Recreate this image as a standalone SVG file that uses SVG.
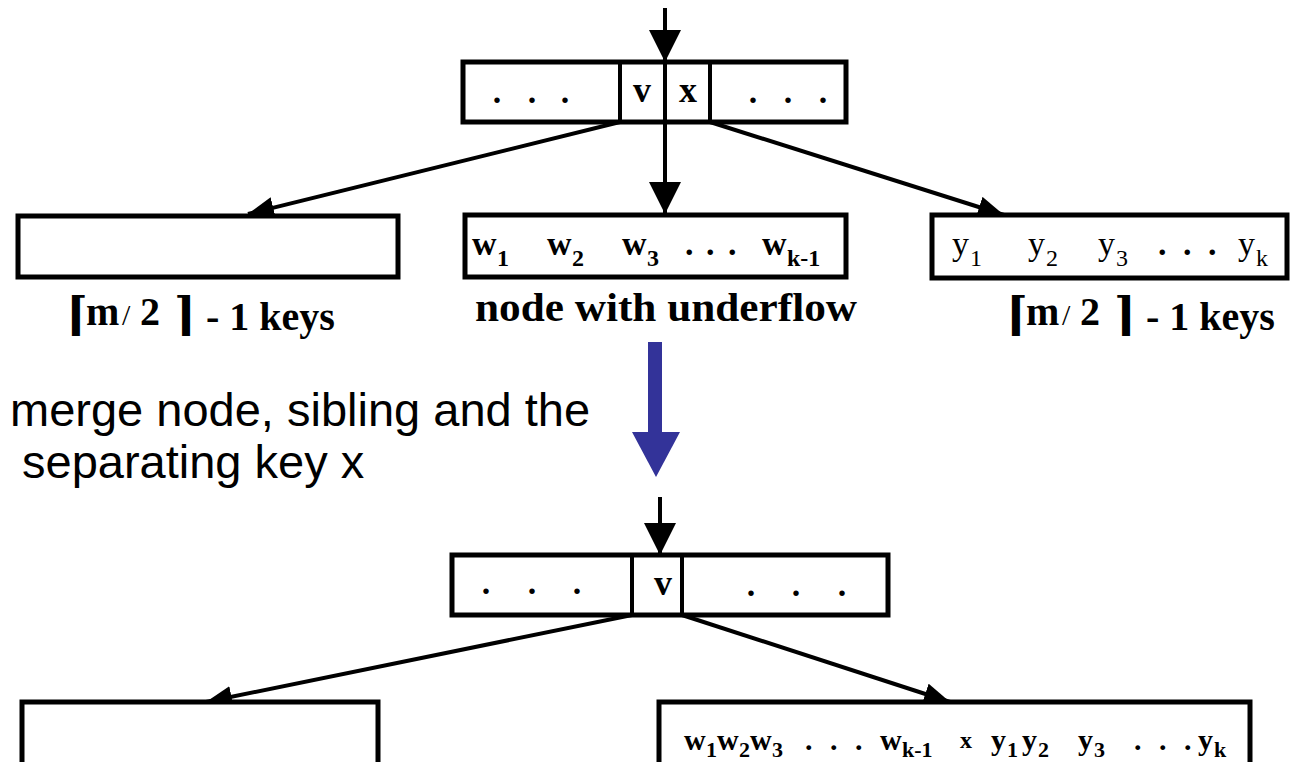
<svg xmlns="http://www.w3.org/2000/svg" width="1302" height="762" viewBox="0 0 1302 762">
<style>
.box{fill:#fff;stroke:#000;stroke-width:5}
.div{stroke:#000;stroke-width:4}
.con{stroke:#000;stroke-width:4;fill:none}
.k{font-family:"Liberation Serif",serif;font-weight:bold;font-size:34px;fill:#000}
.km{font-family:"Liberation Serif",serif;font-weight:bold;font-size:30px;fill:#000}
.kx{font-family:"Liberation Serif",serif;font-weight:bold;font-size:24px;fill:#000}
.kv{font-family:"Liberation Serif",serif;font-weight:bold;font-size:36px;fill:#000}
.kn{font-family:"Liberation Serif",serif;font-size:34px;fill:#000}
.sub{font-family:"Liberation Serif",serif;font-size:24px;fill:#000}
.subb{font-family:"Liberation Serif",serif;font-weight:bold;font-size:22px;fill:#000}
.lbl{font-family:"Liberation Serif",serif;font-weight:bold;font-size:40px;fill:#000}
.ceil{font-family:"DejaVu Serif",serif;font-weight:bold;font-size:46px;fill:#000}
.note{font-family:"Liberation Sans",Arial,sans-serif;font-size:47px;fill:#000}
</style>
<defs>
<marker id="ahv" markerUnits="userSpaceOnUse" markerWidth="32" markerHeight="32" viewBox="0 0 30 30" refX="30" refY="15" orient="auto">
<path d="M0,0 L30,15 L0,30 z" fill="#000"/>
</marker>
<marker id="ahd" markerUnits="userSpaceOnUse" markerWidth="26" markerHeight="22" viewBox="0 0 24 20" refX="24" refY="10" orient="auto">
<path d="M0,0 L24,10 L0,20 z" fill="#000"/>
</marker>
</defs>
<rect width="1302" height="762" fill="#fff"/>

<g id="connectors">
<line class="con" x1="665" y1="8" x2="665" y2="62" marker-end="url(#ahv)"/>
<line class="con" x1="620" y1="122" x2="248" y2="214" marker-end="url(#ahd)"/>
<line class="con" x1="665" y1="122" x2="665" y2="214" marker-end="url(#ahv)"/>
<line class="con" x1="710" y1="122" x2="1004" y2="215" marker-end="url(#ahd)"/>
<line class="con" x1="660" y1="497" x2="660" y2="555" marker-end="url(#ahv)"/>
<line class="con" x1="632" y1="615" x2="206" y2="702" marker-end="url(#ahd)"/>
<line class="con" x1="682" y1="615" x2="950" y2="702" marker-end="url(#ahd)"/>
</g>

<g id="parent-top">
<rect class="box" x="463" y="62" width="383" height="60"/>
<line class="div" x1="620" y1="62" x2="620" y2="122"/>
<line class="div" x1="665" y1="62" x2="665" y2="122"/>
<line class="div" x1="710" y1="62" x2="710" y2="122"/>
<text class="k" text-anchor="middle" y="103"><tspan x="497">.</tspan><tspan x="532">.</tspan><tspan x="565">.</tspan></text>
<text class="kv" text-anchor="middle" x="642" y="102">v</text>
<text class="kv" text-anchor="middle" x="688" y="102">x</text>
<text class="k" text-anchor="middle" y="103"><tspan x="753">.</tspan><tspan x="788">.</tspan><tspan x="823">.</tspan></text>
</g>

<g id="left-sibling">
<rect class="box" x="18" y="216" width="380" height="61"/>
<text class="lbl" y="325"><tspan class="ceil" x="66" y="330">⌈</tspan><tspan x="86" y="325">m</tspan><tspan x="122" font-weight="normal" font-size="30">/</tspan><tspan x="140">2</tspan><tspan class="ceil" x="174" y="330">⌉</tspan><tspan x="206">- 1 keys</tspan></text>
</g>

<g id="underflow-node">
<rect class="box" x="465" y="215" width="381" height="62"/>
<text class="k" y="255"><tspan x="472">w</tspan><tspan class="sub" x="497" y="266">1</tspan><tspan x="547" y="255">w</tspan><tspan class="sub" x="572" y="266">2</tspan><tspan x="622" y="255">w</tspan><tspan class="sub" x="647" y="266">3</tspan><tspan x="685" y="255">.</tspan><tspan x="706">.</tspan><tspan x="728">.</tspan><tspan x="762">w</tspan><tspan class="sub" x="787" y="266">k-1</tspan></text>
<text class="lbl" x="475" y="321" textLength="382" lengthAdjust="spacingAndGlyphs">node with underflow</text>
</g>

<g id="right-sibling">
<rect class="box" x="932" y="215" width="355" height="63"/>
<text class="kn" y="255"><tspan x="952">y</tspan><tspan class="sub" x="970" y="266">1</tspan><tspan x="1028" y="255">y</tspan><tspan class="sub" x="1046" y="266">2</tspan><tspan x="1098" y="255">y</tspan><tspan class="sub" x="1116" y="266">3</tspan><tspan class="k" x="1158" y="255">.</tspan><tspan class="k" x="1183">.</tspan><tspan class="k" x="1208">.</tspan><tspan x="1238">y</tspan><tspan class="sub" x="1256" y="266">k</tspan></text>
<text class="lbl" y="325"><tspan class="ceil" x="1006" y="330">⌈</tspan><tspan x="1026" y="325">m</tspan><tspan x="1062" font-weight="normal" font-size="30">/</tspan><tspan x="1080">2</tspan><tspan class="ceil" x="1114" y="330">⌉</tspan><tspan x="1146">- 1 keys</tspan></text>
</g>

<g id="merge-step">
<rect x="648" y="342" width="14" height="92" fill="#333399"/>
<polygon points="632,432 680,432 656,477" fill="#333399"/>
<text class="note" x="10" y="426">merge node, sibling and the</text>
<text class="note" x="22" y="478">separating key x</text>
</g>

<g id="parent-bottom">
<rect class="box" x="452" y="555" width="436" height="60"/>
<line class="div" x1="632" y1="555" x2="632" y2="615"/>
<line class="div" x1="682" y1="555" x2="682" y2="615"/>
<text class="k" text-anchor="middle" y="594"><tspan x="486">.</tspan><tspan x="532">.</tspan><tspan x="577">.</tspan></text>
<text class="kv" text-anchor="middle" x="663" y="595">v</text>
<text class="k" text-anchor="middle" y="596"><tspan x="751">.</tspan><tspan x="796">.</tspan><tspan x="842">.</tspan></text>
</g>

<g id="left-child-bottom">
<rect class="box" x="22" y="702" width="356" height="70"/>
</g>

<g id="merged-node">
<rect class="box" x="659" y="702" width="591" height="70"/>
<text class="km" y="750"><tspan x="684">w</tspan><tspan class="subb" x="706" y="757">1</tspan><tspan x="717" y="750">w</tspan><tspan class="subb" x="739" y="757">2</tspan><tspan x="750" y="750">w</tspan><tspan class="subb" x="772" y="757">3</tspan><tspan x="805" y="750">.</tspan><tspan x="830">.</tspan><tspan x="855">.</tspan><tspan x="880">w</tspan><tspan class="subb" x="902" y="757">k-1</tspan><tspan class="kx" x="960" y="748">x</tspan><tspan x="991" y="750">y</tspan><tspan class="subb" x="1007" y="757">1</tspan><tspan x="1022" y="750">y</tspan><tspan class="subb" x="1038" y="757">2</tspan><tspan x="1078" y="750">y</tspan><tspan class="subb" x="1094" y="757">3</tspan><tspan x="1134" y="750">.</tspan><tspan x="1159">.</tspan><tspan x="1184">.</tspan><tspan x="1198">y</tspan><tspan class="subb" x="1214" y="757">k</tspan></text>
</g>
</svg>
